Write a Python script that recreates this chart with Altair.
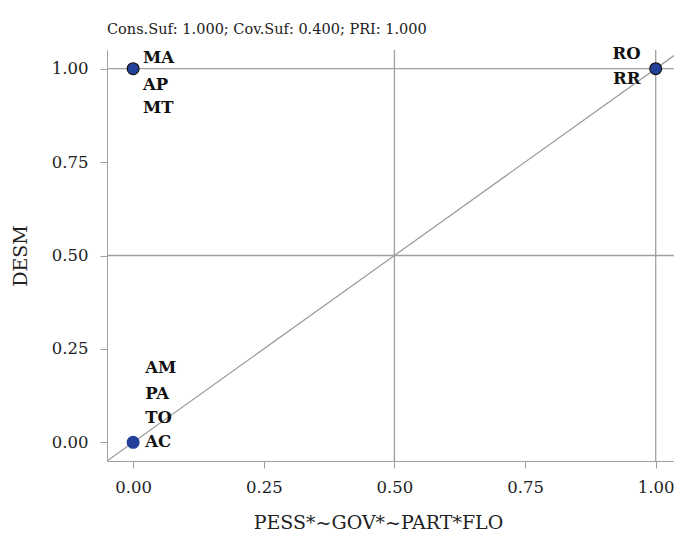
import altair as alt
import pandas as pd

# Cases (x = PESS*~GOV*~PART*FLO membership, y = DESM membership)
px = [0.0, 1.0, 0.0]
py = [1.0, 1.0, 0.0]
outlined = [True, True, False]

# Case labels and where they sit (data units)
labels = ["MA", "AP", "MT", "RO", "RR", "AM", "PA", "TO", "AC"]
lab_x = [0.019, 0.019, 0.019, 0.971, 0.971, 0.023, 0.023, 0.023, 0.023]
lab_y = [1.029, 0.957, 0.894, 1.040, 0.973, 0.199, 0.130, 0.066, 0.0]
lab_align = ["left", "left", "left", "right", "right", "left", "left", "left", "left"]

ticks = [0.0, 0.25, 0.5, 0.75, 1.0]
ref_lines = [0.5, 1.0]

xdom = [-0.05, 1.035]
ydom = [-0.05, 1.05]
FONT = "DejaVu Serif"
GRID = "#a0a0a0"

pts = pd.DataFrame({"x": px, "y": py, "outlined": outlined})
labs = pd.DataFrame({"label": labels, "x": lab_x, "y": lab_y, "align": lab_align})
refs = pd.DataFrame({"v": ref_lines})
diag = pd.DataFrame({"x": [-0.05, 1.1], "y": [-0.05, 1.1]})

xs = alt.Scale(domain=xdom, nice=False, zero=False)
ys = alt.Scale(domain=ydom, nice=False, zero=False)

xax = alt.Axis(values=ticks, format=".2f", grid=False, title="PESS*~GOV*~PART*FLO",
               labelFont=FONT, titleFont=FONT, labelFontSize=16.5, titleFontSize=19,
               titleFontWeight="normal", labelColor="#222", titleColor="#222",
               domainColor=GRID, tickColor=GRID, tickSize=7, labelPadding=11, titlePadding=18,
               titleX=271)
yax = alt.Axis(values=ticks, format=".2f", grid=False, title="DESM",
               labelFont=FONT, titleFont=FONT, labelFontSize=16.5, titleFontSize=19,
               titleFontWeight="normal", labelColor="#222", titleColor="#222",
               domainColor=GRID, tickColor=GRID, tickSize=7, labelPadding=12, titlePadding=21)

base_axes = alt.Chart(pts).mark_point(opacity=0).encode(
    x=alt.X("x:Q", scale=xs, axis=xax),
    y=alt.Y("y:Q", scale=ys, axis=yax),
)

vlines = alt.Chart(refs).mark_rule(color=GRID, strokeWidth=1.3, clip=True).encode(
    x=alt.X("v:Q", scale=xs))
hlines = alt.Chart(refs).mark_rule(color=GRID, strokeWidth=1.3, clip=True).encode(
    y=alt.Y("v:Q", scale=ys))
diagonal = alt.Chart(diag).mark_line(color=GRID, strokeWidth=1.3, clip=True).encode(
    x=alt.X("x:Q", scale=xs), y=alt.Y("y:Q", scale=ys))

points = alt.Chart(pts).mark_circle(size=140, opacity=1, color="#23409a", strokeWidth=1.2).encode(
    x=alt.X("x:Q", scale=xs),
    y=alt.Y("y:Q", scale=ys),
    stroke=alt.condition("datum.outlined", alt.value("#111111"), alt.value("#23409a")),
)

text_left = alt.Chart(labs).transform_filter("datum.align == 'left'").mark_text(
    align="left", baseline="middle", font=FONT, fontWeight="bold", fontSize=16.5, color="#111"
).encode(x=alt.X("x:Q", scale=xs), y=alt.Y("y:Q", scale=ys), text="label:N")
text_right = alt.Chart(labs).transform_filter("datum.align == 'right'").mark_text(
    align="right", baseline="middle", font=FONT, fontWeight="bold", fontSize=16.5, color="#111"
).encode(x=alt.X("x:Q", scale=xs), y=alt.Y("y:Q", scale=ys), text="label:N")

chart = alt.layer(base_axes, vlines, hlines, diagonal, points, text_left, text_right).properties(
    width=567, height=411,
    autosize=alt.AutoSizeParams(type="none"),
    padding={"left": 107, "top": 50, "right": 0, "bottom": 76},
    title=alt.TitleParams("Cons.Suf: 1.000; Cov.Suf: 0.400; PRI: 1.000", anchor="start",
                          frame="group",
                          font=FONT, fontSize=14.5, fontWeight="normal", color="#222", offset=8),
).configure_view(stroke=None)

chart.save("out.html", embed_options={"renderer": "svg", "actions": False})
